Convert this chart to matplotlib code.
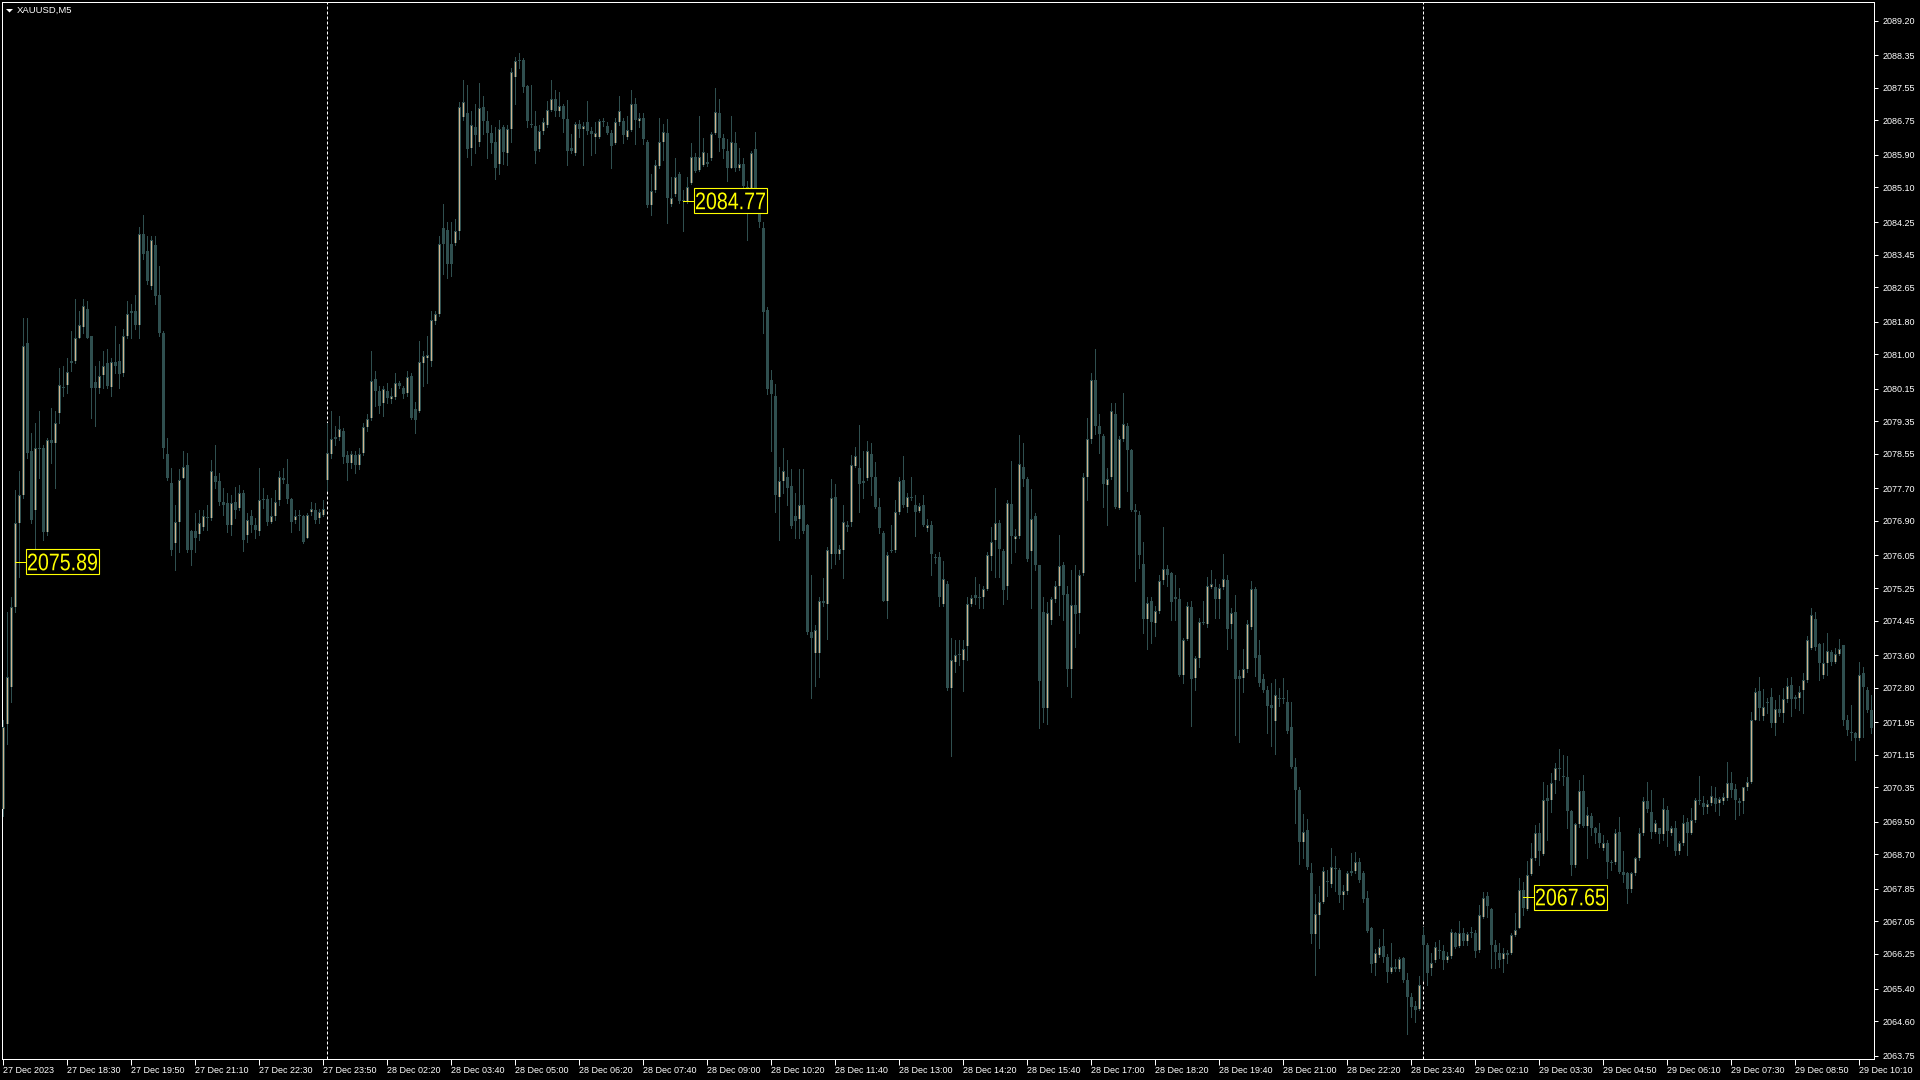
import numpy as np
import matplotlib
matplotlib.use('Agg')
import matplotlib.pyplot as plt
from matplotlib.patches import Rectangle, Polygon, PathPatch
from matplotlib.textpath import TextPath
from matplotlib.font_manager import FontProperties
from matplotlib.transforms import Affine2D

plt.rcParams['font.family'] = ['Liberation Sans', 'DejaVu Sans']

# XAUUSD M5 bars, 27 Dec 2023 17:10 .. 29 Dec 10:25
opens = [
    2069.82, 2071.90, 2072.82, 2074.78, 2076.86, 2077.53, 2081.27, 2078.63, 2077.17, 2078.70,
    2078.70, 2076.62, 2078.88, 2078.82, 2079.55, 2080.19, 2080.25, 2080.78, 2080.84, 2081.39,
    2081.66, 2082.10, 2081.45, 2080.31, 2080.16, 2080.49, 2080.78, 2080.19, 2080.80, 2080.84,
    2080.55, 2081.45, 2082.02, 2082.06, 2081.73, 2083.96, 2083.53, 2082.67, 2083.69, 2082.46,
    2081.51, 2078.55, 2077.84, 2076.35, 2076.88, 2077.96, 2078.27, 2076.64, 2076.64, 2076.59,
    2076.76, 2076.98, 2076.98, 2078.01, 2077.89, 2077.37, 2077.33, 2076.80, 2077.37, 2077.23,
    2077.59, 2076.55, 2077.01, 2076.80, 2076.64, 2077.41, 2077.45, 2076.88, 2077.01, 2077.41,
    2077.96, 2077.81, 2077.45, 2076.92, 2077.01, 2077.01, 2076.49, 2077.13, 2077.17, 2076.96,
    2077.04, 2077.90, 2078.55, 2078.96, 2078.96, 2079.12, 2078.51, 2078.33, 2078.51, 2078.27,
    2078.57, 2079.21, 2079.43, 2080.38, 2080.10, 2079.80, 2080.10, 2079.89, 2079.94, 2080.29,
    2080.16, 2080.04, 2080.47, 2079.65, 2079.61, 2080.78, 2080.90, 2080.84, 2081.82, 2082.00,
    2084.10, 2084.05, 2083.71, 2083.74, 2084.02, 2086.83, 2086.92, 2086.06, 2086.58, 2086.23,
    2087.08, 2086.73, 2086.43, 2086.23, 2085.69, 2086.58, 2085.94, 2086.55, 2087.82, 2088.21,
    2088.24, 2087.59, 2086.66, 2086.62, 2086.04, 2086.50, 2086.64, 2087.01, 2087.28, 2086.99,
    2087.10, 2086.78, 2086.00, 2085.94, 2086.66, 2086.55, 2086.70, 2086.50, 2086.35, 2086.35,
    2086.73, 2086.62, 2086.43, 2086.20, 2086.70, 2086.73, 2086.35, 2086.52, 2087.16, 2086.73,
    2086.81, 2086.23, 2084.67, 2085.04, 2085.62, 2086.23, 2086.43, 2084.69, 2084.95, 2085.42,
    2084.76, 2084.78, 2085.22, 2085.85, 2085.54, 2085.65, 2085.73, 2085.83, 2086.43, 2086.93,
    2086.31, 2086.00, 2085.59, 2086.20, 2085.59, 2085.69, 2085.11, 2085.04, 2086.04, 2084.61,
    2084.11, 2082.09, 2080.37, 2079.97, 2077.49, 2077.88, 2077.99, 2077.76, 2077.01, 2076.95,
    2077.30, 2076.80, 2074.16, 2073.64, 2073.64, 2074.92, 2074.86, 2076.08, 2077.49, 2076.08,
    2076.19, 2076.80, 2076.87, 2078.26, 2078.19, 2077.88, 2077.96, 2078.54, 2077.99, 2077.24,
    2076.60, 2074.94, 2076.19, 2076.19, 2077.12, 2077.91, 2077.24, 2077.49, 2077.30, 2077.15,
    2077.30, 2076.72, 2076.80, 2076.02, 2076.02, 2074.86, 2075.36, 2072.80, 2073.44, 2073.60,
    2073.49, 2073.82, 2074.86, 2075.08, 2075.00, 2075.03, 2075.23, 2076.03, 2076.42, 2076.86,
    2076.16, 2075.30, 2077.31, 2076.45, 2076.53, 2078.23, 2077.92, 2076.16, 2077.01, 2075.81,
    2074.67, 2072.30, 2074.47, 2074.97, 2075.30, 2075.81, 2075.11, 2073.27, 2074.83, 2074.64,
    2075.61, 2077.98, 2078.92, 2080.37, 2079.24, 2078.98, 2077.79, 2077.98, 2079.54, 2077.23,
    2078.92, 2079.24, 2078.65, 2077.16, 2077.05, 2075.83, 2074.49, 2074.94, 2074.38, 2074.69,
    2075.45, 2075.72, 2075.61, 2075.03, 2074.97, 2073.11, 2074.00, 2074.78, 2073.04, 2073.52,
    2074.41, 2074.36, 2075.27, 2075.27, 2074.97, 2075.27, 2075.45, 2074.36, 2074.67, 2073.08,
    2073.04, 2073.27, 2074.30, 2075.23, 2073.60, 2073.02, 2072.74, 2072.37, 2071.99, 2072.55,
    2072.52, 2072.44, 2071.82, 2070.85, 2070.29, 2069.01, 2069.29, 2068.23, 2066.73, 2067.21,
    2067.54, 2068.01, 2067.96, 2068.36, 2068.32, 2067.70, 2067.79, 2068.25, 2068.29, 2068.51,
    2068.23, 2067.62, 2066.90, 2066.03, 2066.23, 2066.45, 2066.17, 2065.81, 2065.92, 2065.89,
    2066.14, 2065.62, 2065.20, 2064.97, 2064.89, 2066.72, 2066.47, 2065.90, 2066.10, 2066.33,
    2066.33, 2066.10, 2066.20, 2066.76, 2066.45, 2066.77, 2066.58, 2066.76, 2066.77, 2066.35,
    2067.17, 2067.67, 2067.35, 2066.47, 2066.28, 2066.12, 2066.27, 2066.27, 2066.72, 2066.90,
    2067.82, 2067.35, 2068.22, 2068.60, 2069.23, 2068.71, 2070.08, 2070.04, 2070.53, 2070.79,
    2070.63, 2070.60, 2069.77, 2068.44, 2069.45, 2070.27, 2069.40, 2069.64, 2069.34, 2069.23,
    2068.85, 2068.99, 2068.52, 2068.50, 2069.26, 2068.27, 2068.25, 2067.86, 2068.23, 2068.60,
    2069.23, 2070.02, 2069.75, 2069.26, 2069.34, 2069.20, 2069.79, 2069.23, 2069.36, 2068.79,
    2068.99, 2069.50, 2069.23, 2069.54, 2070.04, 2069.97, 2069.87, 2069.97, 2070.08, 2069.97,
    2070.02, 2070.08, 2070.46, 2070.30, 2070.00, 2070.00, 2070.35, 2070.49, 2072.00, 2072.72,
    2072.10, 2072.43, 2072.56, 2071.94, 2072.27, 2072.18, 2072.51, 2072.86, 2072.56, 2072.54,
    2072.74, 2072.99, 2073.77, 2074.48, 2073.87, 2073.11, 2073.41, 2073.68, 2073.44, 2073.63,
    2073.85, 2072.00, 2071.72, 2071.69, 2071.55, 2073.15, 2072.74, 2072.25,
]
highs = [
    2072.00, 2074.66, 2075.03, 2077.65, 2078.14, 2081.88, 2081.88, 2079.06, 2079.31, 2079.61,
    2078.76, 2078.94, 2079.67, 2079.61, 2080.65, 2080.71, 2080.90, 2081.57, 2082.37, 2082.06,
    2082.37, 2082.31, 2081.45, 2080.71, 2080.84, 2081.08, 2081.14, 2080.90, 2081.69, 2081.26,
    2081.63, 2082.31, 2082.24, 2082.46, 2084.14, 2084.42, 2083.90, 2083.90, 2083.90, 2083.16,
    2081.57, 2078.94, 2078.21, 2077.29, 2078.18, 2078.63, 2078.57, 2076.68, 2077.10, 2077.17,
    2077.17, 2077.29, 2078.39, 2078.76, 2078.08, 2077.72, 2077.59, 2077.53, 2077.74, 2077.78,
    2077.65, 2077.10, 2077.17, 2076.96, 2078.21, 2077.72, 2077.53, 2077.47, 2077.65, 2078.14,
    2078.21, 2078.43, 2077.47, 2077.17, 2077.17, 2077.04, 2077.10, 2077.37, 2077.35, 2077.20,
    2077.41, 2079.31, 2079.61, 2079.24, 2079.49, 2079.18, 2078.63, 2078.63, 2078.63, 2078.69,
    2079.31, 2079.53, 2081.08, 2080.59, 2080.23, 2080.23, 2080.29, 2080.16, 2080.53, 2080.35,
    2080.23, 2080.59, 2080.53, 2079.82, 2081.33, 2081.08, 2081.45, 2082.06, 2082.06, 2083.90,
    2084.69, 2084.26, 2084.26, 2084.32, 2087.20, 2087.75, 2087.63, 2086.99, 2087.16, 2087.68,
    2087.34, 2086.99, 2086.64, 2086.58, 2086.76, 2086.64, 2086.64, 2088.03, 2088.32, 2088.40,
    2088.29, 2087.63, 2087.63, 2086.99, 2086.64, 2086.81, 2087.22, 2087.74, 2087.51, 2087.45,
    2087.16, 2087.24, 2086.41, 2086.70, 2086.76, 2086.70, 2087.22, 2086.58, 2086.70, 2086.78,
    2086.81, 2086.70, 2086.52, 2086.81, 2087.36, 2086.81, 2086.87, 2087.51, 2087.31, 2086.93,
    2086.93, 2086.27, 2085.42, 2085.77, 2086.81, 2086.66, 2086.78, 2085.36, 2085.83, 2085.48,
    2085.04, 2085.36, 2086.20, 2085.94, 2086.85, 2086.31, 2085.94, 2086.47, 2087.54, 2087.28,
    2086.41, 2086.29, 2086.87, 2086.47, 2086.06, 2085.83, 2085.25, 2086.00, 2086.47, 2084.72,
    2084.26, 2082.17, 2080.60, 2080.26, 2078.22, 2078.69, 2078.40, 2078.17, 2077.59, 2078.17,
    2078.17, 2076.83, 2075.56, 2074.34, 2075.03, 2075.50, 2076.25, 2077.93, 2077.82, 2076.31,
    2077.30, 2076.91, 2078.52, 2078.71, 2079.27, 2078.63, 2078.86, 2078.81, 2078.34, 2077.47,
    2076.66, 2076.14, 2076.80, 2077.41, 2077.99, 2078.49, 2077.59, 2077.99, 2077.53, 2077.35,
    2077.53, 2076.95, 2076.89, 2076.08, 2076.14, 2075.92, 2075.42, 2074.02, 2073.97, 2073.97,
    2073.97, 2075.03, 2075.08, 2075.53, 2075.36, 2075.30, 2076.14, 2076.75, 2077.70, 2076.92,
    2076.20, 2077.42, 2078.37, 2076.70, 2079.01, 2078.81, 2077.97, 2077.68, 2077.09, 2075.81,
    2075.03, 2074.91, 2075.03, 2075.42, 2076.56, 2075.89, 2075.30, 2075.69, 2075.81, 2075.69,
    2078.09, 2079.42, 2080.54, 2081.13, 2079.54, 2079.03, 2078.20, 2079.81, 2079.81, 2078.98,
    2080.04, 2079.31, 2078.68, 2077.31, 2077.14, 2076.38, 2075.03, 2075.03, 2074.80, 2075.58,
    2076.75, 2075.81, 2075.64, 2075.58, 2075.25, 2074.02, 2074.91, 2074.94, 2073.58, 2074.52,
    2074.94, 2075.53, 2075.69, 2075.47, 2075.36, 2076.08, 2075.58, 2074.75, 2075.08, 2073.24,
    2073.75, 2074.47, 2075.42, 2075.27, 2073.97, 2073.13, 2072.85, 2072.91, 2073.02, 2072.80,
    2073.04, 2072.74, 2072.44, 2071.07, 2070.35, 2069.70, 2069.57, 2068.48, 2067.73, 2067.92,
    2068.40, 2068.32, 2068.85, 2068.66, 2068.37, 2067.95, 2068.29, 2068.73, 2068.77, 2068.62,
    2068.29, 2067.81, 2066.92, 2066.36, 2066.62, 2066.87, 2066.25, 2066.51, 2066.12, 2066.17,
    2066.17, 2065.77, 2065.28, 2065.10, 2065.71, 2066.92, 2066.51, 2066.27, 2066.55, 2066.59,
    2066.47, 2066.31, 2066.86, 2066.80, 2067.07, 2066.90, 2066.80, 2066.92, 2066.84, 2067.45,
    2067.78, 2067.78, 2067.37, 2066.59, 2066.51, 2066.39, 2066.35, 2066.76, 2067.25, 2068.11,
    2068.03, 2068.54, 2068.97, 2069.42, 2069.46, 2070.49, 2070.41, 2070.69, 2070.95, 2071.28,
    2071.14, 2071.12, 2069.79, 2069.48, 2070.53, 2070.65, 2069.87, 2069.71, 2069.38, 2069.46,
    2069.18, 2069.05, 2068.56, 2069.32, 2069.63, 2068.79, 2068.27, 2068.27, 2068.64, 2069.34,
    2070.12, 2070.49, 2070.28, 2069.54, 2069.34, 2070.08, 2069.89, 2069.40, 2069.53, 2069.04,
    2069.67, 2069.59, 2069.83, 2070.08, 2070.63, 2070.13, 2070.04, 2070.38, 2070.36, 2070.12,
    2070.20, 2070.98, 2070.73, 2070.43, 2070.08, 2070.36, 2070.61, 2072.21, 2072.78, 2073.07,
    2072.76, 2072.54, 2072.78, 2072.50, 2072.62, 2072.78, 2073.03, 2073.07, 2072.62, 2072.84,
    2073.17, 2074.07, 2074.75, 2074.67, 2073.91, 2073.89, 2074.14, 2073.73, 2073.77, 2073.99,
    2073.85, 2072.13, 2072.37, 2071.72, 2073.44, 2073.30, 2072.82, 2072.62,
]
lows = [
    2069.64, 2071.41, 2072.45, 2074.66, 2075.51, 2077.47, 2078.45, 2076.86, 2076.13, 2077.96,
    2076.43, 2076.55, 2078.33, 2077.72, 2079.31, 2079.98, 2080.04, 2080.59, 2080.78, 2081.39,
    2081.51, 2081.39, 2079.43, 2079.24, 2080.04, 2080.16, 2080.16, 2079.98, 2080.53, 2080.16,
    2080.47, 2081.39, 2081.39, 2081.63, 2081.39, 2083.34, 2082.73, 2082.61, 2082.24, 2081.45,
    2078.45, 2077.90, 2076.07, 2075.70, 2076.13, 2077.96, 2076.13, 2075.82, 2076.13, 2076.43,
    2076.68, 2076.68, 2076.92, 2077.72, 2077.29, 2077.04, 2076.62, 2076.55, 2076.98, 2077.17,
    2076.15, 2076.37, 2076.62, 2076.47, 2076.55, 2077.23, 2076.80, 2076.84, 2076.92, 2077.29,
    2077.84, 2077.35, 2076.62, 2076.86, 2076.68, 2076.35, 2076.47, 2077.04, 2076.86, 2076.86,
    2077.01, 2077.65, 2078.45, 2078.76, 2078.88, 2078.33, 2077.90, 2078.21, 2078.08, 2078.18,
    2078.51, 2079.12, 2079.37, 2079.73, 2079.55, 2079.49, 2079.80, 2079.80, 2079.89, 2080.16,
    2079.92, 2079.98, 2079.41, 2079.06, 2079.58, 2080.23, 2080.29, 2080.71, 2081.75, 2081.94,
    2082.98, 2082.88, 2082.92, 2083.69, 2083.83, 2086.77, 2085.85, 2085.65, 2085.94, 2086.12,
    2086.41, 2085.83, 2085.94, 2085.31, 2085.42, 2085.69, 2085.65, 2086.23, 2087.16, 2088.03,
    2087.45, 2086.58, 2086.58, 2085.71, 2086.00, 2086.41, 2086.58, 2086.99, 2086.87, 2086.87,
    2086.47, 2085.65, 2085.94, 2085.89, 2086.35, 2085.65, 2086.41, 2085.89, 2085.94, 2086.31,
    2086.62, 2086.41, 2085.57, 2086.18, 2086.64, 2086.20, 2086.29, 2086.50, 2086.18, 2086.58,
    2086.18, 2084.61, 2084.43, 2084.99, 2085.57, 2085.77, 2084.23, 2084.64, 2084.90, 2084.72,
    2084.03, 2084.72, 2085.19, 2085.48, 2085.50, 2085.62, 2085.62, 2085.77, 2086.41, 2086.00,
    2085.83, 2085.25, 2085.57, 2085.50, 2085.54, 2084.72, 2083.80, 2085.01, 2084.55, 2084.14,
    2081.53, 2080.02, 2078.63, 2077.12, 2076.43, 2077.59, 2077.30, 2076.72, 2076.48, 2076.48,
    2076.60, 2074.11, 2072.54, 2072.83, 2073.06, 2074.80, 2073.99, 2075.73, 2075.85, 2075.96,
    2075.50, 2076.66, 2076.77, 2078.22, 2077.12, 2077.47, 2077.91, 2077.53, 2077.22, 2076.60,
    2074.92, 2074.51, 2076.14, 2076.14, 2077.07, 2077.24, 2077.12, 2077.41, 2076.54, 2077.12,
    2076.77, 2076.66, 2075.56, 2075.87, 2074.80, 2074.80, 2072.74, 2071.13, 2073.19, 2073.36,
    2072.71, 2073.47, 2074.80, 2074.86, 2074.75, 2074.75, 2075.19, 2075.69, 2075.53, 2075.53,
    2074.86, 2074.97, 2075.86, 2076.14, 2076.47, 2077.75, 2075.92, 2074.75, 2075.69, 2071.80,
    2071.96, 2071.91, 2074.36, 2074.91, 2074.58, 2074.47, 2072.85, 2072.58, 2073.80, 2074.14,
    2075.58, 2077.42, 2078.81, 2079.03, 2078.57, 2077.25, 2076.81, 2077.92, 2077.23, 2077.20,
    2078.87, 2077.64, 2077.14, 2075.42, 2075.75, 2074.14, 2073.75, 2073.91, 2074.08, 2074.64,
    2075.36, 2075.30, 2074.47, 2074.47, 2073.08, 2072.91, 2073.97, 2071.85, 2072.74, 2073.30,
    2074.36, 2074.30, 2075.25, 2074.52, 2074.52, 2075.23, 2073.75, 2074.02, 2071.63, 2071.46,
    2072.69, 2073.19, 2074.25, 2073.08, 2072.85, 2072.69, 2071.69, 2071.37, 2071.18, 2072.35,
    2072.41, 2071.69, 2070.82, 2069.46, 2068.46, 2068.62, 2068.34, 2066.51, 2065.73, 2066.40,
    2067.51, 2067.68, 2067.90, 2067.79, 2067.54, 2067.36, 2067.73, 2068.18, 2068.23, 2068.01,
    2067.54, 2066.79, 2065.81, 2065.73, 2066.17, 2066.06, 2065.56, 2065.78, 2065.84, 2065.84,
    2065.56, 2064.28, 2064.71, 2064.58, 2064.87, 2065.61, 2065.49, 2065.73, 2066.06, 2066.14,
    2065.87, 2066.06, 2066.14, 2066.39, 2066.43, 2066.47, 2066.47, 2066.67, 2066.17, 2066.31,
    2067.13, 2067.17, 2065.90, 2065.90, 2065.92, 2065.81, 2066.02, 2066.25, 2066.68, 2066.88,
    2067.21, 2067.33, 2068.19, 2068.56, 2068.44, 2068.68, 2069.05, 2069.75, 2070.20, 2070.53,
    2070.41, 2069.34, 2068.19, 2068.40, 2069.38, 2069.38, 2068.60, 2069.18, 2068.97, 2068.89,
    2068.81, 2068.11, 2068.32, 2068.46, 2068.25, 2068.03, 2067.50, 2067.78, 2068.19, 2068.56,
    2069.18, 2069.75, 2069.09, 2069.22, 2068.97, 2069.05, 2068.90, 2069.18, 2068.68, 2068.71,
    2068.93, 2068.68, 2069.20, 2069.50, 2069.94, 2069.69, 2069.72, 2069.91, 2069.77, 2069.67,
    2069.94, 2070.04, 2070.12, 2069.56, 2069.67, 2069.72, 2070.28, 2070.45, 2072.00, 2072.00,
    2072.00, 2072.17, 2071.84, 2071.64, 2072.10, 2071.96, 2072.45, 2072.10, 2072.29, 2072.25,
    2072.17, 2072.95, 2073.74, 2073.73, 2072.99, 2073.03, 2073.11, 2073.36, 2073.40, 2073.60,
    2071.88, 2071.63, 2071.51, 2071.02, 2071.51, 2071.59, 2072.21, 2071.68,
]
closes = [
    2071.84, 2073.07, 2074.78, 2076.86, 2077.53, 2081.20, 2078.57, 2076.92, 2078.70, 2078.66,
    2076.62, 2078.88, 2078.82, 2079.31, 2080.25, 2080.17, 2080.56, 2080.84, 2081.39, 2081.73,
    2082.18, 2081.41, 2080.16, 2080.16, 2080.47, 2080.71, 2080.23, 2080.80, 2080.71, 2080.51,
    2081.45, 2082.00, 2082.06, 2081.73, 2083.96, 2083.47, 2082.79, 2083.81, 2082.43, 2081.51,
    2078.69, 2077.96, 2076.19, 2076.88, 2077.90, 2078.23, 2076.19, 2076.19, 2076.47, 2076.84,
    2077.01, 2077.00, 2078.14, 2077.86, 2077.37, 2077.29, 2076.80, 2077.33, 2077.17, 2077.59,
    2076.43, 2076.92, 2076.80, 2076.68, 2077.41, 2077.45, 2076.88, 2077.01, 2077.37, 2077.99,
    2077.90, 2077.45, 2076.88, 2077.01, 2077.04, 2076.37, 2077.04, 2077.20, 2076.92, 2077.13,
    2077.20, 2078.57, 2078.91, 2078.91, 2079.16, 2078.47, 2078.33, 2078.55, 2078.27, 2078.55,
    2079.21, 2079.41, 2080.35, 2080.10, 2079.73, 2080.14, 2079.92, 2079.98, 2080.29, 2080.23,
    2080.02, 2080.43, 2079.43, 2079.37, 2080.80, 2080.96, 2080.99, 2081.85, 2082.00, 2083.71,
    2083.71, 2083.22, 2083.22, 2084.02, 2087.08, 2087.20, 2086.04, 2086.64, 2086.38, 2087.05,
    2086.73, 2086.43, 2086.20, 2085.57, 2086.55, 2085.97, 2086.55, 2087.94, 2088.21, 2088.24,
    2087.57, 2086.73, 2086.64, 2086.00, 2086.50, 2086.70, 2087.01, 2087.28, 2086.99, 2087.10,
    2086.78, 2086.00, 2086.06, 2086.66, 2086.55, 2086.62, 2086.50, 2086.41, 2086.43, 2086.73,
    2086.70, 2086.43, 2086.12, 2086.70, 2086.99, 2086.38, 2086.52, 2087.16, 2086.76, 2086.81,
    2086.29, 2084.67, 2085.01, 2085.65, 2086.23, 2086.47, 2084.84, 2084.84, 2085.37, 2084.76,
    2084.78, 2085.11, 2085.85, 2085.50, 2085.85, 2085.97, 2085.68, 2086.41, 2086.96, 2086.31,
    2086.04, 2085.59, 2086.23, 2085.59, 2085.69, 2085.13, 2084.78, 2085.94, 2084.57, 2084.26,
    2082.05, 2080.14, 2080.02, 2077.53, 2077.88, 2078.14, 2077.70, 2076.77, 2076.89, 2077.30,
    2076.66, 2074.16, 2074.01, 2074.22, 2074.92, 2074.89, 2076.19, 2077.47, 2076.08, 2076.22,
    2076.87, 2076.75, 2078.28, 2078.49, 2077.82, 2077.84, 2078.63, 2077.99, 2077.24, 2076.72,
    2074.94, 2076.05, 2076.16, 2077.12, 2077.88, 2077.30, 2077.49, 2077.47, 2077.12, 2077.26,
    2076.80, 2076.80, 2076.08, 2075.99, 2075.03, 2075.47, 2072.80, 2073.49, 2073.60, 2073.63,
    2073.75, 2074.86, 2075.00, 2075.00, 2075.03, 2075.23, 2076.05, 2076.38, 2076.86, 2076.20,
    2075.19, 2077.34, 2076.53, 2076.53, 2078.31, 2077.92, 2075.97, 2076.94, 2075.81, 2072.97,
    2072.30, 2074.64, 2074.97, 2075.30, 2075.78, 2075.08, 2073.27, 2074.83, 2074.60, 2075.58,
    2077.98, 2078.92, 2080.37, 2079.24, 2079.03, 2077.81, 2077.92, 2079.61, 2077.25, 2078.92,
    2079.28, 2078.65, 2077.16, 2077.12, 2076.05, 2074.49, 2074.89, 2074.41, 2074.69, 2075.42,
    2075.72, 2075.58, 2074.91, 2074.97, 2073.11, 2073.97, 2074.80, 2073.02, 2073.52, 2074.41,
    2074.38, 2075.30, 2075.36, 2074.97, 2075.25, 2075.47, 2074.25, 2074.64, 2073.02, 2073.02,
    2073.27, 2074.36, 2075.23, 2073.52, 2072.91, 2072.74, 2072.35, 2072.30, 2072.63, 2072.52,
    2072.55, 2071.74, 2070.85, 2070.29, 2069.01, 2069.26, 2068.40, 2066.73, 2067.23, 2067.54,
    2068.29, 2068.03, 2068.40, 2068.34, 2067.70, 2067.79, 2068.23, 2068.29, 2068.51, 2068.07,
    2067.59, 2066.81, 2066.01, 2066.28, 2066.43, 2066.17, 2065.81, 2065.92, 2065.87, 2066.12,
    2065.62, 2065.20, 2064.95, 2064.87, 2065.49, 2066.47, 2065.77, 2066.02, 2066.41, 2066.35,
    2066.10, 2066.20, 2066.80, 2066.43, 2066.77, 2066.58, 2066.74, 2066.77, 2066.33, 2067.21,
    2067.62, 2067.43, 2066.47, 2066.31, 2066.10, 2066.27, 2066.23, 2066.72, 2066.84, 2067.82,
    2067.37, 2068.19, 2068.60, 2069.23, 2068.79, 2070.04, 2070.02, 2070.45, 2070.82, 2070.82,
    2070.60, 2069.77, 2068.44, 2069.45, 2070.27, 2069.40, 2069.66, 2069.34, 2069.23, 2068.97,
    2068.97, 2068.50, 2068.48, 2069.23, 2068.27, 2068.19, 2067.84, 2068.23, 2068.60, 2069.23,
    2070.02, 2069.81, 2069.26, 2069.48, 2069.20, 2069.81, 2069.28, 2069.36, 2068.79, 2068.99,
    2069.46, 2069.23, 2069.54, 2070.04, 2070.00, 2069.87, 2069.94, 2070.13, 2069.95, 2070.05,
    2070.10, 2070.45, 2070.28, 2070.04, 2069.97, 2070.35, 2070.49, 2072.00, 2072.70, 2072.29,
    2072.33, 2072.45, 2071.94, 2072.27, 2072.17, 2072.51, 2072.84, 2072.51, 2072.51, 2072.70,
    2072.99, 2073.96, 2074.59, 2073.81, 2073.40, 2073.41, 2073.71, 2073.44, 2073.63, 2073.74,
    2072.00, 2071.76, 2071.69, 2071.55, 2073.11, 2072.82, 2072.25, 2071.80,
]

# time axis labels, one every 16 bars
time_labels = ['27 Dec 2023', '27 Dec 18:30', '27 Dec 19:50', '27 Dec 21:10', '27 Dec 22:30',
               '27 Dec 23:50', '28 Dec 02:20', '28 Dec 03:40', '28 Dec 05:00', '28 Dec 06:20',
               '28 Dec 07:40', '28 Dec 09:00', '28 Dec 10:20', '28 Dec 11:40', '28 Dec 13:00',
               '28 Dec 14:20', '28 Dec 15:40', '28 Dec 17:00', '28 Dec 18:20', '28 Dec 19:40',
               '28 Dec 21:00', '28 Dec 22:20', '28 Dec 23:40', '29 Dec 02:10', '29 Dec 03:30',
               '29 Dec 04:50', '29 Dec 06:10', '29 Dec 07:30', '29 Dec 08:50', '29 Dec 10:10']
price_labels = ['2089.20', '2088.35', '2087.55', '2086.75', '2085.90', '2085.10', '2084.25',
                '2083.45', '2082.65', '2081.80', '2081.00', '2080.15', '2079.35', '2078.55',
                '2077.70', '2076.90', '2076.05', '2075.25', '2074.45', '2073.60', '2072.80',
                '2071.95', '2071.15', '2070.35', '2069.50', '2068.70', '2067.85', '2067.05',
                '2066.25', '2065.40', '2064.60', '2063.75']
day_breaks = [81, 355]          # first bar of 28 Dec and 29 Dec
mark_bars = [3, 170, 380]       # yellow price labels
mark_prices = [2075.89, 2084.77, 2067.65]

BEAR = '#2F4F4F'
BULL = '#D2B48C'

W, H = 1920, 1080
fig = plt.figure(figsize=(W / 100, H / 100), dpi=100, facecolor='black')
ax = fig.add_axes([2 / W, 21 / H, 1872 / W, 1057 / H])
ax.set_facecolor('black')
ymin, ymax = 2063.667, 2089.662
ax.set_xlim(-0.25, 467.75)
ax.set_ylim(ymin, ymax)
ppx = (ymax - ymin) / 1057.0    # price per pixel
xpx = 0.25                      # bars per pixel

o = np.array(opens)
h = np.array(highs)
l = np.array(lows)
c = np.array(closes)
x = np.arange(len(c))
body_lo = np.minimum(o, c)
body_hi = np.maximum(o, c)
body_h = np.maximum(body_hi - body_lo, ppx)
up = c > o

# day separators
for b in day_breaks:
    ax.axvline(b, color='white', lw=0.72, linestyle=(0, (3, 2)), zorder=1)

# candles
ax.vlines(x, np.minimum(l, body_lo), np.maximum(h, body_hi), color=BEAR, lw=0.72,
          antialiased=False, zorder=2)
ax.bar(x, body_h, bottom=body_lo, width=0.75, color=BEAR, linewidth=0,
       antialiased=False, zorder=3)
inner = up & (body_h > 2.5 * ppx)
ax.vlines(x[inner], body_lo[inner] + ppx, body_hi[inner] - ppx, color=BULL, lw=0.72,
          antialiased=False, zorder=4)

# yellow price labels (text squeezed to the narrow terminal font)
fp = FontProperties(family='Liberation Sans')
for b, p in zip(mark_bars, mark_prices):
    box_x = b + 11 * xpx
    box_w, box_h = 73 * xpx, 25 * ppx
    ax.plot([b, box_x], [p, p], color='yellow', lw=0.72, zorder=5)
    ax.add_patch(Rectangle((box_x, p - box_h / 2), box_w, box_h, facecolor='black',
                           edgecolor='yellow', lw=0.8, zorder=6))
    tp = TextPath((0, 0), f'{p:.2f}', size=1, prop=fp)
    ext = tp.get_extents()
    sx = 69 * xpx / ext.width
    sy = 17 * ppx / ext.height
    cx, cy = box_x + box_w / 2, p
    tr = Affine2D().translate(-(ext.x0 + ext.width / 2), -(ext.y0 + ext.height / 2)) \
        .scale(sx, sy).translate(cx, cy) + ax.transData
    ax.add_patch(PathPatch(tp, facecolor='yellow', edgecolor='none', transform=tr, zorder=7))

# axes
for s in ax.spines.values():
    s.set_color('white')
    s.set_linewidth(0.72)
ax.yaxis.tick_right()
ax.set_yticks([float(v) for v in price_labels])
ax.set_yticklabels(price_labels)
ax.set_xticks(np.arange(0, 16 * len(time_labels), 16))
ax.set_xticklabels(time_labels, ha='left')
ax.tick_params(axis='y', colors='white', length=3, width=0.72, pad=3, labelsize=6.5)
ax.tick_params(axis='x', colors='white', length=4, width=0.72, pad=1, labelsize=6.5)

# title with the small triangle
fig.add_artist(Polygon([[6 / W, 1 - 9 / H], [13 / W, 1 - 9 / H], [9.5 / W, 1 - 12.5 / H]],
                       closed=True, facecolor='white', edgecolor='none',
                       transform=fig.transFigure))
fig.text(17 / W, 1 - 10.5 / H, 'XAUUSD,M5', color='white', fontsize=6.8, ha='left',
         va='center')

fig.savefig('out.png', dpi=100, facecolor='black')
